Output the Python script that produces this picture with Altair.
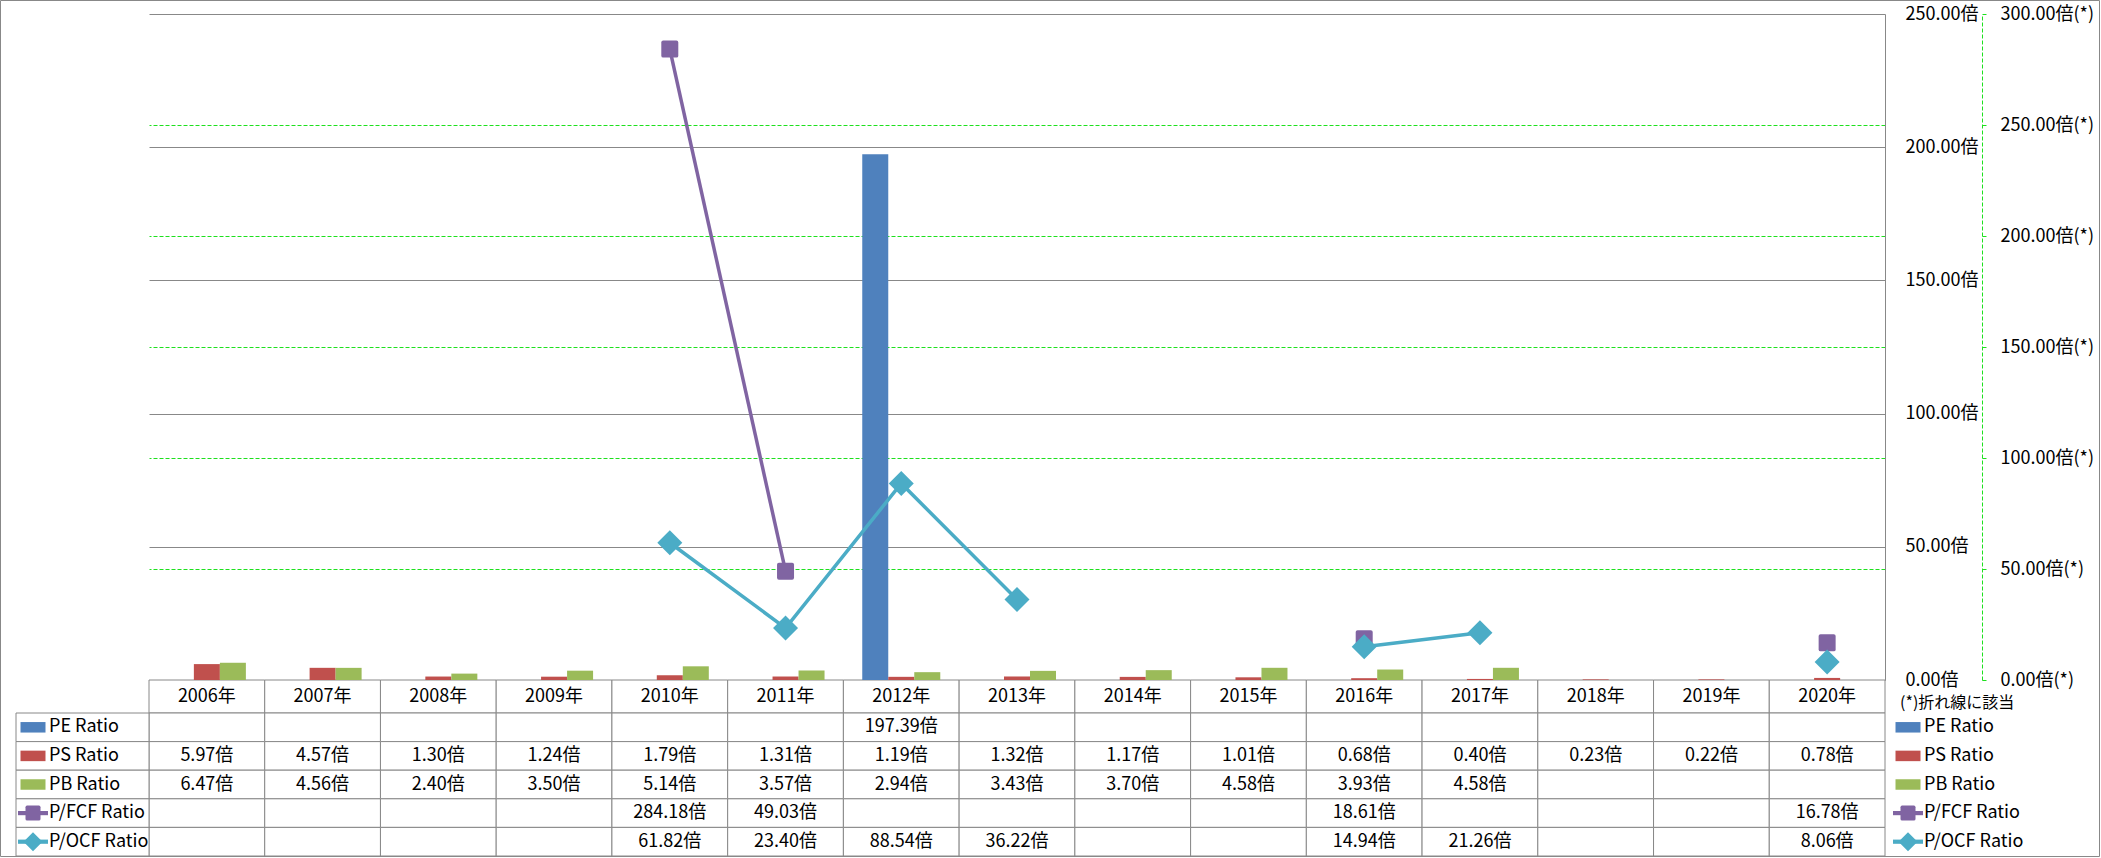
import altair as alt
import pandas as pd

# ---------------- data ----------------
years = ["2006年", "2007年", "2008年", "2009年", "2010年", "2011年", "2012年", "2013年",
         "2014年", "2015年", "2016年", "2017年", "2018年", "2019年", "2020年"]
series_names = ["PE Ratio", "PS Ratio", "PB Ratio", "P/FCF Ratio", "P/OCF Ratio"]
series_colors = ["#4F81BD", "#C0504D", "#9BBB59", "#8064A2", "#4BACC6"]
bar_series = ["PE Ratio", "PS Ratio", "PB Ratio"]
line_series = ["P/FCF Ratio", "P/OCF Ratio"]

pe_ratio = [None, None, None, None, None, None, 197.39, None, None, None, None, None, None, None, None]
ps_ratio = [5.97, 4.57, 1.30, 1.24, 1.79, 1.31, 1.19, 1.32, 1.17, 1.01, 0.68, 0.40, 0.23, 0.22, 0.78]
pb_ratio = [6.47, 4.56, 2.40, 3.50, 5.14, 3.57, 2.94, 3.43, 3.70, 4.58, 3.93, 4.58, None, None, None]
pfcf_ratio = [None, None, None, None, 284.18, 49.03, None, None, None, None, 18.61, None, None, None, 16.78]
pocf_ratio = [None, None, None, None, 61.82, 23.40, 88.54, 36.22, None, None, 14.94, 21.26, None, None, 8.06]

primary_ticks = [0, 50, 100, 150, 200, 250]
secondary_ticks = [0, 50, 100, 150, 200, 250, 300]
secondary_grid = [50, 100, 150, 200, 250]
legend_note = "(*)折れ線に該当"
header_row = "年度"

# ---------------- tables built from the arrays ----------------
values = dict(zip(series_names, [pe_ratio, ps_ratio, pb_ratio, pfcf_ratio, pocf_ratio]))
long_rows = []
for s in series_names:
    seg = 0
    for y, v in zip(years, values[s]):
        if v is None:
            seg += 1
            continue
        long_rows.append({"series": s, "year": y, "value": v, "seg": f"{s}-{seg}",
                          "label": f"{v:.2f}倍"})
long_df = pd.DataFrame(long_rows)
bar_df = long_df[long_df.series.isin(bar_series)]
fcf_df = long_df[long_df.series == "P/FCF Ratio"]
ocf_df = long_df[long_df.series == "P/OCF Ratio"]

data_cells_df = pd.DataFrame([{"year": y, "row": r} for y in years for r in series_names])
header_df = pd.DataFrame({"year": years, "row": header_row, "label": years})
value_text_df = long_df.rename(columns={"series": "row"})[["year", "row", "label"]]
legend_df = pd.DataFrame({"series": series_names, "row": series_names})
note_df = pd.DataFrame({"row": [header_row], "label": [legend_note]})

# ---------------- layout / style ----------------
FONT = "Noto Sans CJK JP"
GRID = "#888888"
GREEN = "#1EE01E"
W, H = 1736, 842
PLOT_H = 666
HDR_H = 699
FS = 18

x_scale = alt.Scale(type="band", domain=years, paddingInner=0, paddingOuter=0)
hdr_scale = alt.Scale(type="band", domain=[header_row], range=[PLOT_H, HDR_H], paddingInner=0, paddingOuter=0)
row_scale = alt.Scale(type="band", domain=series_names, range=[HDR_H, H], paddingInner=0, paddingOuter=0)
prim_scale = alt.Scale(domain=[0, 250], range=[PLOT_H, 0], nice=False)
sec_scale = alt.Scale(domain=[0, 300], range=[PLOT_H, 0], nice=False)
color_scale = alt.Scale(domain=series_names, range=series_colors)

X = alt.X("year:N", scale=x_scale, axis=None, bandPosition=0.5)
XB = alt.X("year:N", scale=x_scale, axis=None)
ROW = alt.Y("row:N", scale=row_scale, axis=None)
ROWC = alt.Y("row:N", scale=row_scale, axis=None, bandPosition=0.5)
HDR = alt.Y("row:N", scale=hdr_scale, axis=None)
HDRC = alt.Y("row:N", scale=hdr_scale, axis=None, bandPosition=0.5)
COLOR = alt.Color("series:N", scale=color_scale, legend=None)

rounded_square = ("M-0.78,-1L0.78,-1Q1,-1 1,-0.78L1,0.78Q1,1 0.78,1L-0.78,1"
                  "Q-1,1 -1,0.78L-1,-0.78Q-1,-1 -0.78,-1Z")
rect_shape = "M-1,-0.42L1,-0.42L1,0.42L-1,0.42Z"
line_shape = "M-1,-0.14L1,-0.14L1,0.14L-1,0.14Z"

primary_axis = alt.Axis(orient="right", values=primary_ticks,
                        labelExpr="format(datum.value, '.2f') + '倍'",
                        labelAlign="left", labelBaseline="middle", labelPadding=20,
                        ticks=False, tickSize=0, domain=True, domainColor=GRID,
                        grid=True, gridColor=GRID, gridWidth=1, labelFontSize=FS,
                        labelColor="black", labelFont=FONT, labelOverlap=False, title=None)
sec_grid_axis = alt.Axis(orient="right", values=secondary_grid, labels=False, ticks=False,
                         domain=False, grid=True, gridColor=GREEN, gridDash=[4, 2],
                         gridWidth=1, title=None)
sec_label_axis = alt.Axis(orient="right", offset=97, values=secondary_ticks,
                          labelExpr="format(datum.value, '.2f') + '倍(*)'",
                          labelAlign="left", labelBaseline="middle", labelPadding=14,
                          ticks=True, tickSize=4, tickColor=GREEN, domain=True,
                          domainColor=GREEN, domainDash=[4, 2], grid=False,
                          labelFontSize=FS, labelColor="black", labelFont=FONT,
                          labelOverlap=False, title=None)

one = pd.DataFrame({"k": [0]})
frame = alt.Chart(one).mark_rect(fill="white", fillOpacity=0, stroke=GRID, strokeWidth=1).encode(
    x=alt.value(-148.5), x2=alt.value(1950.5), y=alt.value(-13.5), y2=alt.value(842.5))

header_cells = alt.Chart(header_df).mark_rect(fill="white", stroke=GRID, strokeWidth=1).encode(
    x=XB, y=HDR)
data_cells = alt.Chart(data_cells_df).mark_rect(fill="white", stroke=GRID, strokeWidth=1).encode(
    x=XB, y=ROW)
left_cells = alt.Chart(legend_df).mark_rect(fill="white", stroke=GRID, strokeWidth=1).encode(
    x=alt.value(-133), x2=alt.value(0), y=ROW)

bars = alt.Chart(bar_df).mark_bar().encode(
    x=XB,
    xOffset=alt.XOffset("series:N", scale=alt.Scale(domain=bar_series, paddingInner=0, paddingOuter=0.725)),
    y=alt.Y("value:Q", scale=prim_scale, axis=primary_axis),
    color=COLOR)

fcf_line = alt.Chart(fcf_df).mark_line(strokeWidth=3.5).encode(
    x=X, y=alt.Y("value:Q", scale=sec_scale, axis=sec_grid_axis), color=COLOR, detail="seg:N")
fcf_pts = alt.Chart(fcf_df).mark_point(shape=rounded_square, size=289, filled=True, opacity=1).encode(
    x=X, y=alt.Y("value:Q", scale=sec_scale, axis=None), color=COLOR)
ocf_line = alt.Chart(ocf_df).mark_line(strokeWidth=3.5).encode(
    x=X, y=alt.Y("value:Q", scale=sec_scale, axis=sec_label_axis), color=COLOR, detail="seg:N")
ocf_pts = alt.Chart(ocf_df).mark_point(shape="diamond", size=625, filled=True, opacity=1).encode(
    x=X, y=alt.Y("value:Q", scale=sec_scale, axis=None), color=COLOR)

header_text = alt.Chart(header_df).mark_text(font=FONT, fontSize=FS, color="black", baseline="middle").encode(
    x=X, y=HDRC, text="label:N")
value_text = alt.Chart(value_text_df).mark_text(font=FONT, fontSize=FS, color="black", baseline="middle").encode(
    x=X, y=ROWC, text="label:N")


def legend_layers(cx, tx):
    bar_sw = alt.Chart(legend_df[legend_df.series.isin(bar_series)]).mark_point(
        shape=rect_shape, size=625, filled=True, opacity=1).encode(x=alt.value(cx), y=ROWC, color=COLOR)
    line_sw = alt.Chart(legend_df[legend_df.series.isin(line_series)]).mark_point(
        shape=line_shape, size=900, filled=True, opacity=1).encode(x=alt.value(cx), y=ROWC, color=COLOR)
    sq_sw = alt.Chart(legend_df[legend_df.series == "P/FCF Ratio"]).mark_point(
        shape=rounded_square, size=225, filled=True, opacity=1).encode(x=alt.value(cx), y=ROWC, color=COLOR)
    dm_sw = alt.Chart(legend_df[legend_df.series == "P/OCF Ratio"]).mark_point(
        shape="diamond", size=361, filled=True, opacity=1).encode(x=alt.value(cx), y=ROWC, color=COLOR)
    txt = alt.Chart(legend_df).mark_text(font=FONT, fontSize=FS, color="black", align="left",
                                         baseline="middle").encode(x=alt.value(tx), y=ROWC, text="series:N")
    return [bar_sw, line_sw, sq_sw, dm_sw, txt]


note = alt.Chart(note_df).mark_text(font=FONT, fontSize=16, color="black", align="left",
                                    baseline="middle", dy=6).encode(
    x=alt.value(1751), y=HDRC, text="label:N")

chart = alt.layer(
    frame, header_cells, data_cells, left_cells, bars, fcf_line, fcf_pts, ocf_line, ocf_pts,
    header_text, value_text,
    *legend_layers(-116, -100), *legend_layers(1759, 1775), note
).resolve_scale(y="independent").properties(
    width=W, height=H,
    padding={"left": 149, "top": 14, "right": 215, "bottom": 1},
    autosize=alt.AutoSizeParams(type="none"),
    background="white",
).configure_view(stroke=None).configure_text(font=FONT).configure_axis(labelFont=FONT)

chart.save("out.html", embed_options={"renderer": "svg", "actions": False})
